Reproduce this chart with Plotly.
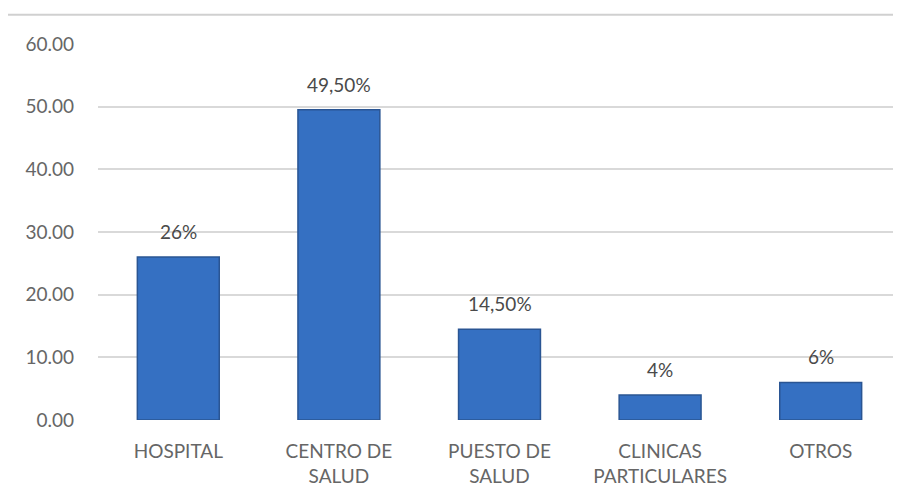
import plotly.graph_objects as go

# ── Data ─────────────────────────────────────────────────────────────────────
categories = ["HOSPITAL", "CENTRO DE<br>SALUD", "PUESTO DE<br>SALUD",
              "CLINICAS<br>PARTICULARES", "OTROS"]
values = [26.0, 49.5, 14.5, 4.0, 6.0]
value_labels = ["26%", "49,50%", "14,50%", "4%", "6%"]
y_ticks = [0, 10, 20, 30, 40, 50, 60]
y_tick_labels = ["0.00", "10.00", "20.00", "30.00", "40.00", "50.00", "60.00"]

FONT = "Lato, 'Open Sans', sans-serif"
C_TEXT = "#666666"
C_GRID = "#d9d9d9"

fig = go.Figure()

fig.add_trace(go.Bar(
    x=categories, y=values,
    marker=dict(color="#3570c2", line=dict(color="#2a5593", width=1.5)),
    hoverinfo="skip",
    showlegend=False,
))

# page body has an 8px margin, so the figure is sized to fit the window
fig.update_layout(
    width=893, height=479,
    paper_bgcolor="white", plot_bgcolor="white",
    margin=dict(l=90, r=0, t=36, b=67),
    bargap=0.49,
    showlegend=False,
    font=dict(family=FONT, size=19, color=C_TEXT),
)

fig.update_xaxes(
    showgrid=False, showline=False, zeroline=False,
    tickfont=dict(family=FONT, size=19, color=C_TEXT),
    ticks="", ticklabelstandoff=18, automargin=False,
)
fig.update_yaxes(
    range=[0, 60],
    tickvals=y_ticks, ticktext=y_tick_labels,
    gridcolor=C_GRID, gridwidth=1.5,
    zeroline=False, showline=False,
    tickfont=dict(family=FONT, size=19, color=C_TEXT),
    ticklabelstandoff=23, automargin=False,
)

# value labels above bars
for cat, v, lab in zip(categories, values, value_labels):
    fig.add_annotation(
        x=cat, y=v, text=lab, showarrow=False,
        yanchor="bottom", yshift=12,
        font=dict(family=FONT, size=19, color="#4a4a4a"),
    )

# thin border line at the top of the chart
fig.add_shape(
    type="line", xref="paper", yref="paper",
    x0=-0.12, x1=1.0, y0=1.078, y1=1.078,
    line=dict(color="#d0d0d0", width=2),
)

fig.write_html("out.html")
